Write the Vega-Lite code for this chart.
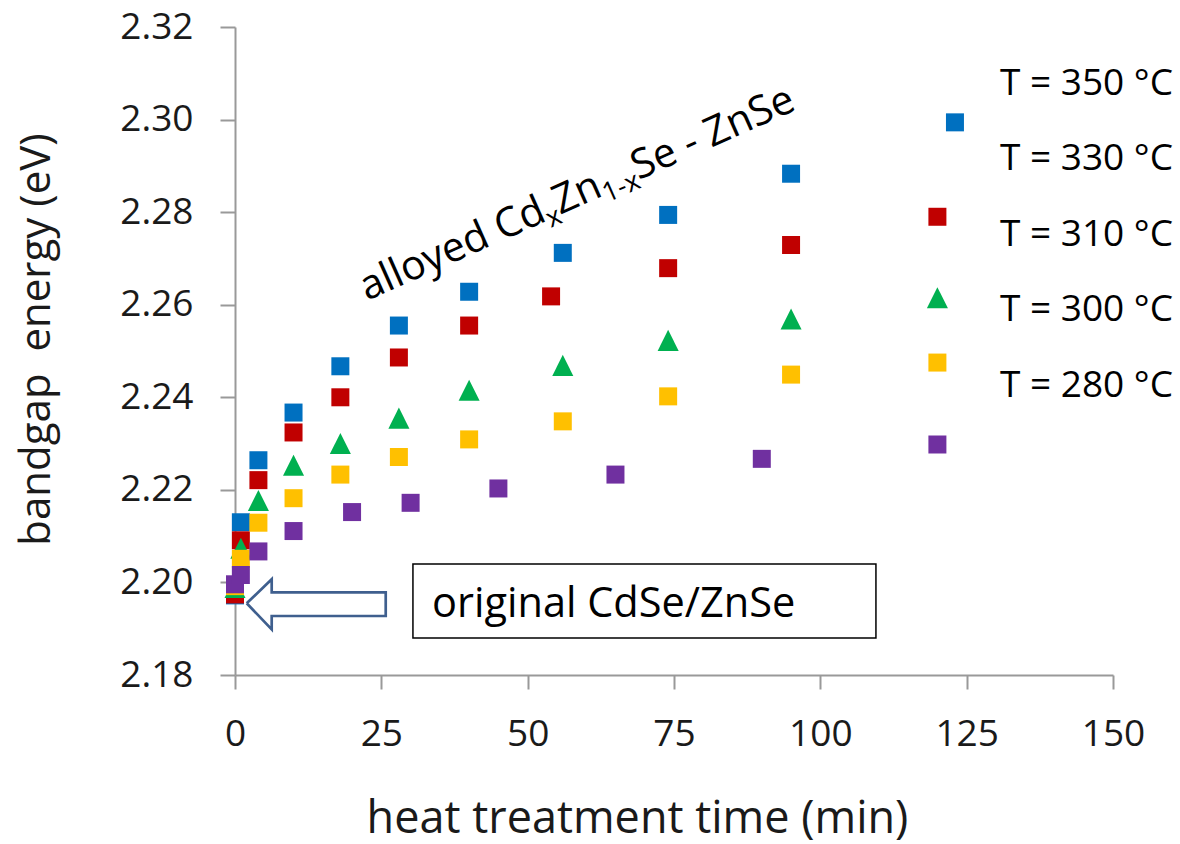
{
  "$schema": "https://vega.github.io/schema/vega-lite/v6.json",
  "width": 878,
  "height": 648,
  "autosize": {"type": "none"},
  "padding": {"left": 235, "top": 27, "right": 67, "bottom": 169},
  "background": "white",
  "config": {
    "view": {"stroke": null},
    "font": "Open Sans",
    "text": {"font": "Open Sans"}
  },
  "datasets": {
    "bandgap": [
      {"T": 350, "t": 0, "E": 2.1972},
      {"T": 350, "t": 1, "E": 2.2130},
      {"T": 350, "t": 4, "E": 2.2264},
      {"T": 350, "t": 10, "E": 2.2367},
      {"T": 350, "t": 18, "E": 2.2467},
      {"T": 350, "t": 28, "E": 2.2555},
      {"T": 350, "t": 40, "E": 2.2628},
      {"T": 350, "t": 56, "E": 2.2712},
      {"T": 350, "t": 74, "E": 2.2794},
      {"T": 350, "t": 95, "E": 2.2883},
      {"T": 350, "t": 123, "E": 2.2994},
      {"T": 330, "t": 0, "E": 2.1974},
      {"T": 330, "t": 1, "E": 2.2091},
      {"T": 330, "t": 4, "E": 2.2221},
      {"T": 330, "t": 10, "E": 2.2324},
      {"T": 330, "t": 18, "E": 2.2400},
      {"T": 330, "t": 28, "E": 2.2486},
      {"T": 330, "t": 40, "E": 2.2555},
      {"T": 330, "t": 54, "E": 2.2618},
      {"T": 330, "t": 74, "E": 2.2679},
      {"T": 330, "t": 95, "E": 2.2729},
      {"T": 330, "t": 120, "E": 2.2790},
      {"T": 310, "t": 0, "E": 2.1989},
      {"T": 310, "t": 1, "E": 2.2074},
      {"T": 310, "t": 4, "E": 2.2177},
      {"T": 310, "t": 10, "E": 2.2253},
      {"T": 310, "t": 18, "E": 2.2300},
      {"T": 310, "t": 28, "E": 2.2355},
      {"T": 310, "t": 40, "E": 2.2415},
      {"T": 310, "t": 56, "E": 2.2469},
      {"T": 310, "t": 74, "E": 2.2523},
      {"T": 310, "t": 95, "E": 2.2569},
      {"T": 310, "t": 120, "E": 2.2615},
      {"T": 300, "t": 0, "E": 2.1992},
      {"T": 300, "t": 1, "E": 2.2051},
      {"T": 300, "t": 4, "E": 2.2129},
      {"T": 300, "t": 10, "E": 2.2182},
      {"T": 300, "t": 18, "E": 2.2233},
      {"T": 300, "t": 28, "E": 2.2271},
      {"T": 300, "t": 40, "E": 2.2309},
      {"T": 300, "t": 56, "E": 2.2348},
      {"T": 300, "t": 74, "E": 2.2402},
      {"T": 300, "t": 95, "E": 2.2449},
      {"T": 300, "t": 120, "E": 2.2475},
      {"T": 280, "t": 0, "E": 2.1996},
      {"T": 280, "t": 1, "E": 2.2016},
      {"T": 280, "t": 4, "E": 2.2067},
      {"T": 280, "t": 10, "E": 2.2111},
      {"T": 280, "t": 20, "E": 2.2152},
      {"T": 280, "t": 30, "E": 2.2172},
      {"T": 280, "t": 45, "E": 2.2203},
      {"T": 280, "t": 65, "E": 2.2233},
      {"T": 280, "t": 90, "E": 2.2267},
      {"T": 280, "t": 120, "E": 2.2298}
    ],
    "arrow": [
      {"i": 0, "t": 2.0, "E": 2.19549},
      {"i": 1, "t": 6.27, "E": 2.20068},
      {"i": 2, "t": 6.27, "E": 2.19787},
      {"i": 3, "t": 25.75, "E": 2.19787},
      {"i": 4, "t": 25.75, "E": 2.19275},
      {"i": 5, "t": 6.27, "E": 2.19275},
      {"i": 6, "t": 6.27, "E": 2.18987},
      {"i": 7, "t": 2.0, "E": 2.19549}
    ],
    "box": [
      {"t": 30.4, "t2": 109.5, "E": 2.2040, "E2": 2.1880}
    ],
    "boxText": [
      {"t": 33.66, "E": 2.19253, "label": "original CdSe/ZnSe"}
    ],
    "seriesLabels": [
      {"t": 130.7, "E": 2.3053, "label": "T = 350 °C"},
      {"t": 130.7, "E": 2.2891, "label": "T = 330 °C"},
      {"t": 130.7, "E": 2.2727, "label": "T = 310 °C"},
      {"t": 130.7, "E": 2.2565, "label": "T = 300 °C"},
      {"t": 130.7, "E": 2.2401, "label": "T = 280 °C"}
    ],
    "alloyLabel": [
      {"part": 1, "t": 22.55, "E": 2.2608, "label": "alloyed Cd"},
      {"part": 2, "t": 22.55, "E": 2.2608, "label": "x"},
      {"part": 3, "t": 22.55, "E": 2.2608, "label": "Zn"},
      {"part": 4, "t": 22.55, "E": 2.2608, "label": "1-x"},
      {"part": 5, "t": 22.55, "E": 2.2608, "label": "Se - ZnSe"}
    ]
  },
  "layer": [
    {
      "data": {"name": "bandgap"},
      "mark": {"type": "point", "filled": true, "opacity": 1, "size": 324, "strokeWidth": 0},
      "encoding": {
        "x": {
          "field": "t",
          "type": "quantitative",
          "scale": {"domain": [0, 150], "nice": false, "zero": false},
          "axis": {
            "title": "heat treatment time (min)",
            "values": [0, 25, 50, 75, 100, 125, 150],
            "grid": false,
            "domainColor": "#999999",
            "domainWidth": 2,
            "tickColor": "#999999",
            "tickWidth": 2,
            "tickSize": 14,
            "labelFont": "Open Sans",
            "labelFontSize": 37,
            "labelColor": "#1a1a1a",
            "labelPadding": 27,
            "labelFlush": false,
            "labelOverlap": false,
            "titleFont": "Open Sans",
            "titleFontSize": 45,
            "titleFontWeight": "normal",
            "titleColor": "#1a1a1a",
            "titleX": 402,
            "titleY": 157,
            "titleAlign": "center",
            "titleBaseline": "alphabetic"
          }
        },
        "y": {
          "field": "E",
          "type": "quantitative",
          "scale": {"domain": [2.18, 2.32], "nice": false, "zero": false},
          "axis": {
            "title": "bandgap\u00a0 energy (eV)",
            "values": [2.18, 2.2, 2.22, 2.24, 2.26, 2.28, 2.3, 2.32],
            "format": ".2f",
            "grid": false,
            "domainColor": "#999999",
            "domainWidth": 2,
            "tickColor": "#999999",
            "tickWidth": 2,
            "tickSize": 15,
            "labelFont": "Open Sans",
            "labelFontSize": 37,
            "labelColor": "#1a1a1a",
            "labelPadding": 27,
            "labelFlush": false,
            "labelOverlap": false,
            "titleFont": "Open Sans",
            "titleFontSize": 42,
            "titleFontWeight": "normal",
            "titleColor": "#1a1a1a",
            "titleAngle": 270,
            "titleX": -186,
            "titleY": 312,
            "titleAlign": "center",
            "titleBaseline": "alphabetic"
          }
        },
        "color": {
          "field": "T",
          "type": "nominal",
          "scale": {
            "domain": [350, 330, 310, 300, 280],
            "range": ["#0070C0", "#C00000", "#00B050", "#FFC000", "#7030A0"]
          },
          "legend": null
        },
        "shape": {
          "field": "T",
          "type": "nominal",
          "scale": {
            "domain": [350, 330, 310, 300, 280],
            "range": ["square", "square", "M0,-1.17L1.17,1.17L-1.17,1.17Z", "square", "square"]
          },
          "legend": null
        }
      }
    },
    {
      "data": {"name": "arrow"},
      "mark": {"type": "line", "color": "#3F5F8E", "strokeWidth": 2.7, "strokeJoin": "miter", "interpolate": "linear"},
      "encoding": {
        "x": {"field": "t", "type": "quantitative"},
        "y": {"field": "E", "type": "quantitative"},
        "order": {"field": "i", "type": "quantitative"}
      }
    },
    {
      "data": {"name": "box"},
      "mark": {"type": "rect", "fill": "white", "stroke": "#000000", "strokeWidth": 1.5},
      "encoding": {
        "x": {"field": "t", "type": "quantitative"},
        "x2": {"field": "t2"},
        "y": {"field": "E", "type": "quantitative"},
        "y2": {"field": "E2"}
      }
    },
    {
      "data": {"name": "boxText"},
      "mark": {"type": "text", "align": "left", "baseline": "alphabetic", "fontSize": 41.5, "color": "#000000", "font": "Open Sans"},
      "encoding": {
        "x": {"field": "t", "type": "quantitative"},
        "y": {"field": "E", "type": "quantitative"},
        "text": {"field": "label"}
      }
    },
    {
      "data": {"name": "seriesLabels"},
      "mark": {"type": "text", "align": "left", "baseline": "alphabetic", "fontSize": 37, "color": "#000000", "font": "Open Sans"},
      "encoding": {
        "x": {"field": "t", "type": "quantitative"},
        "y": {"field": "E", "type": "quantitative"},
        "text": {"field": "label"}
      }
    },
    {
      "data": {"name": "alloyLabel"},
      "transform": [{"filter": "datum.part == 1"}],
      "mark": {"type": "text", "align": "left", "baseline": "alphabetic", "fontSize": 41, "angle": -24, "dx": 0, "color": "#000000", "font": "Open Sans"},
      "encoding": {
        "x": {"field": "t", "type": "quantitative"},
        "y": {"field": "E", "type": "quantitative"},
        "text": {"field": "label"}
      }
    },
    {
      "data": {"name": "alloyLabel"},
      "transform": [{"filter": "datum.part == 2"}],
      "mark": {"type": "text", "align": "left", "baseline": "alphabetic", "fontSize": 27, "angle": -24, "dx": 197.6, "dy": 8, "color": "#000000", "font": "Open Sans"},
      "encoding": {
        "x": {"field": "t", "type": "quantitative"},
        "y": {"field": "E", "type": "quantitative"},
        "text": {"field": "label"}
      }
    },
    {
      "data": {"name": "alloyLabel"},
      "transform": [{"filter": "datum.part == 3"}],
      "mark": {"type": "text", "align": "left", "baseline": "alphabetic", "fontSize": 41, "angle": -24, "dx": 211.2, "color": "#000000", "font": "Open Sans"},
      "encoding": {
        "x": {"field": "t", "type": "quantitative"},
        "y": {"field": "E", "type": "quantitative"},
        "text": {"field": "label"}
      }
    },
    {
      "data": {"name": "alloyLabel"},
      "transform": [{"filter": "datum.part == 4"}],
      "mark": {"type": "text", "align": "left", "baseline": "alphabetic", "fontSize": 27, "angle": -24, "dx": 259.3, "dy": 8, "color": "#000000", "font": "Open Sans"},
      "encoding": {
        "x": {"field": "t", "type": "quantitative"},
        "y": {"field": "E", "type": "quantitative"},
        "text": {"field": "label"}
      }
    },
    {
      "data": {"name": "alloyLabel"},
      "transform": [{"filter": "datum.part == 5"}],
      "mark": {"type": "text", "align": "left", "baseline": "alphabetic", "fontSize": 41, "angle": -24, "dx": 297.1, "color": "#000000", "font": "Open Sans"},
      "encoding": {
        "x": {"field": "t", "type": "quantitative"},
        "y": {"field": "E", "type": "quantitative"},
        "text": {"field": "label"}
      }
    }
  ]
}
